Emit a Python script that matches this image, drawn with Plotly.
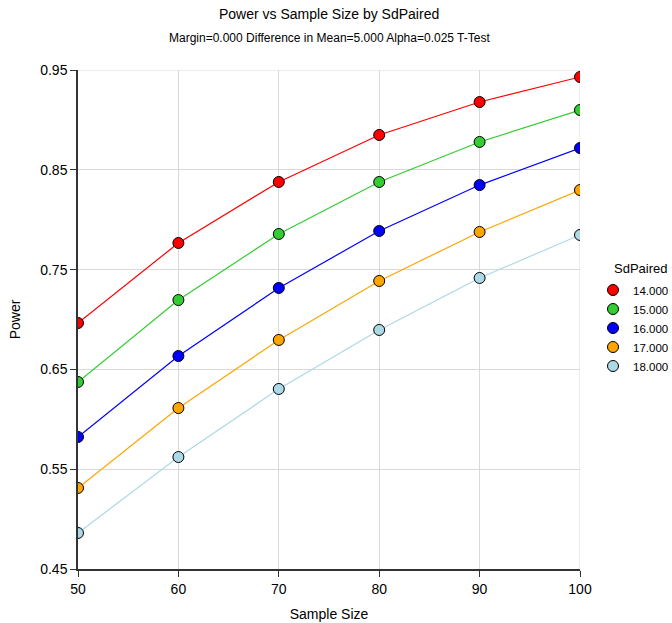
import plotly.graph_objects as go

sample_size = [50, 60, 70, 80, 90, 100]
sd_labels = ["14.000", "15.000", "16.000", "17.000", "18.000"]
colors = ["#ff0000", "#33cc33", "#0000ff", "#ffa500", "#add8e6"]
power_14 = [0.6965, 0.7767, 0.8378, 0.8849, 0.9179, 0.9430]
power_15 = [0.6374, 0.7195, 0.7857, 0.8378, 0.8779, 0.9099]
power_16 = [0.5823, 0.6634, 0.7316, 0.7887, 0.8347, 0.8718]
power_17 = [0.5312, 0.6113, 0.6795, 0.7386, 0.7877, 0.8297]
power_18 = [0.4861, 0.5622, 0.6304, 0.6895, 0.7416, 0.7847]
series = [power_14, power_15, power_16, power_17, power_18]

W, H, L, R, T, B = 672, 623, 78, 92, 70, 54
plot_h = H - T - B
plot_w = W - L - R

def paper_y(px):
    return (H - B - px) / plot_h

def paper_x(px):
    return (px - L) / plot_w

fig = go.Figure()
for lab, col, ys in zip(sd_labels, colors, series):
    fig.add_trace(go.Scatter(
        x=sample_size, y=ys, name=lab, mode="lines+markers", showlegend=False,
        line=dict(color=col, width=1.2),
        marker=dict(color=col, size=11, line=dict(color="black", width=1)),
    ))
for lab, col in zip(sd_labels, colors):
    fig.add_trace(go.Scatter(
        x=[None], y=[None], name=lab, mode="markers",
        marker=dict(color=col, size=11, line=dict(color="black", width=1)),
    ))

fig.update_layout(
    width=W, height=H,
    margin=dict(l=L, r=R, t=T, b=B, autoexpand=False),
    paper_bgcolor="white", plot_bgcolor="white",
    font=dict(family="Liberation Sans, Arial, sans-serif", size=14, color="black"),
    legend=dict(
        x=paper_x(593), xanchor="left", y=paper_y(328), yanchor="middle",
        font=dict(size=11.5), tracegroupgap=0, itemwidth=30,
    ),
    xaxis=dict(
        title=dict(text="Sample Size", font=dict(size=14), standoff=14),
        range=[50, 100], tickvals=[50, 60, 70, 80, 90, 100],
        showgrid=True, gridcolor="#d9d9d9", gridwidth=1,
        showline=True, linecolor="#333333", linewidth=1.5,
        ticks="outside", ticklen=6, tickcolor="#333333",
        zeroline=False, tickfont=dict(size=14), automargin=False,
    ),
    yaxis=dict(
        title=dict(text="Power", font=dict(size=14), standoff=16),
        range=[0.45, 0.95], tickvals=[0.45, 0.55, 0.65, 0.75, 0.85, 0.95],
        ticktext=["0.45", "0.55", "0.65", "0.75", "0.85", "0.95"],
        showgrid=True, gridcolor="#d9d9d9", gridwidth=1,
        showline=True, linecolor="#333333", linewidth=1.5,
        ticks="outside", ticklen=6, tickcolor="#333333",
        zeroline=False, tickfont=dict(size=14), automargin=False,
    ),
    annotations=[
        dict(text="Power vs Sample Size by SdPaired", xref="paper", yref="paper",
             x=0.5, y=paper_y(14), xanchor="center", yanchor="middle",
             showarrow=False, font=dict(size=14)),
        dict(text="Margin=0.000 Difference in Mean=5.000 Alpha=0.025 T-Test", xref="paper", yref="paper",
             x=0.5, y=paper_y(38), xanchor="center", yanchor="middle",
             showarrow=False, font=dict(size=12)),
        dict(text="SdPaired", xref="paper", yref="paper",
             x=paper_x(640), y=paper_y(268), xanchor="center", yanchor="middle",
             showarrow=False, font=dict(size=13)),
    ],
)
fig.add_shape(type="line", xref="x", yref="y", x0=100, x1=100, y0=0.45, y1=0.95,
              line=dict(color="#d9d9d9", width=1), layer="below")
fig.add_shape(type="line", xref="x", yref="y", x0=50, x1=100, y0=0.95, y1=0.95,
              line=dict(color="#d9d9d9", width=1), layer="below")

fig.write_html(
    "out.html",
    config={"displayModeBar": False},
    post_script="document.body.style.margin='0';document.body.style.padding='0';",
)
